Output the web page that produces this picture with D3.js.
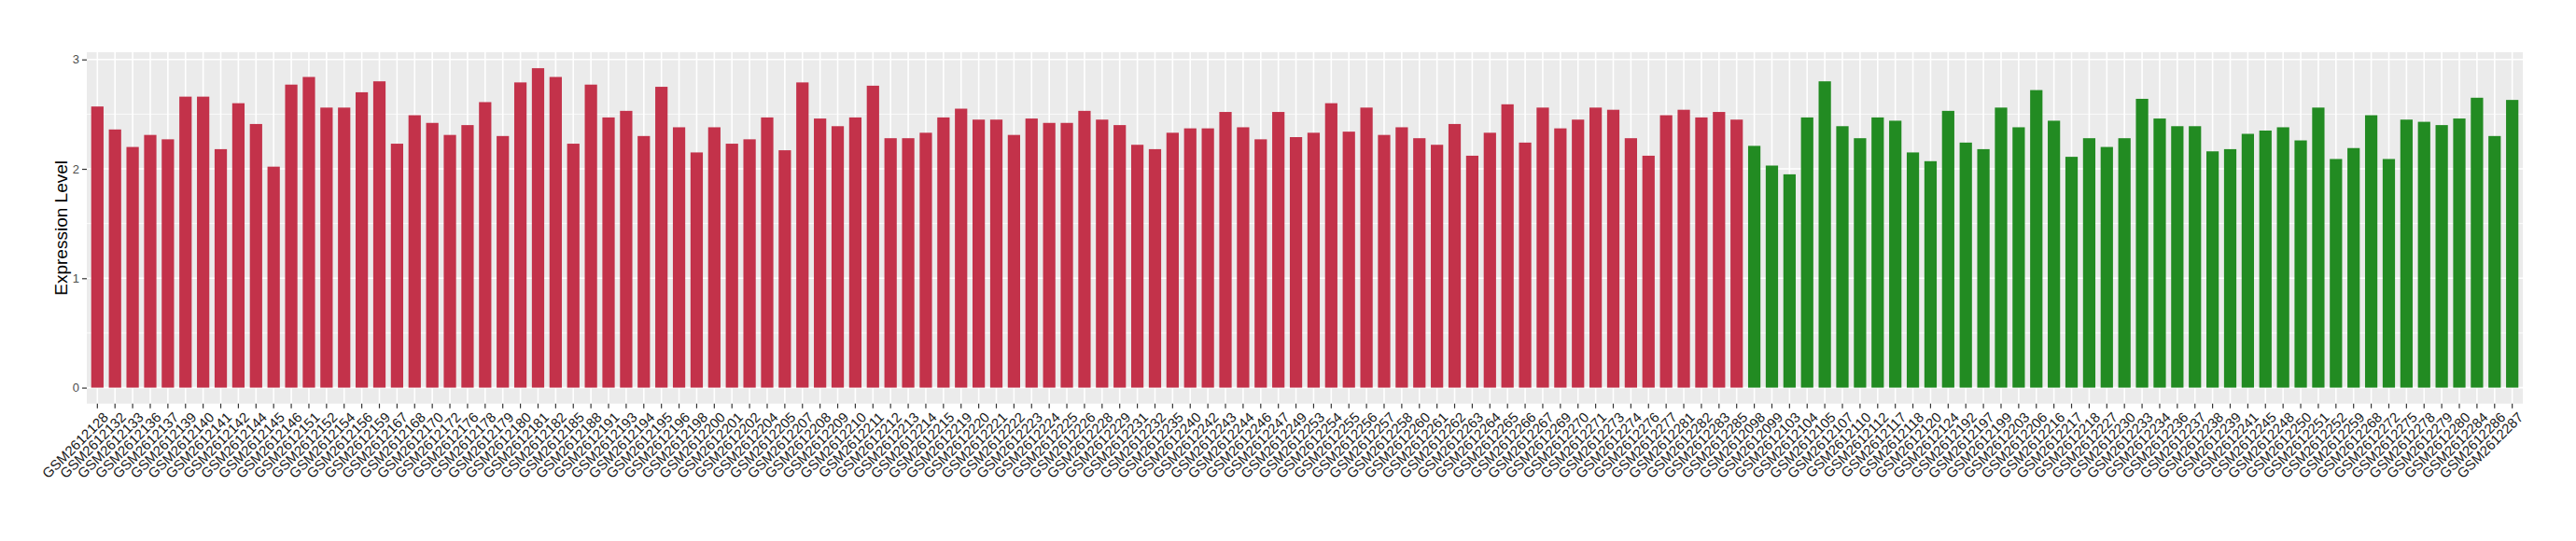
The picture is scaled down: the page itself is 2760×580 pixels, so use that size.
<!DOCTYPE html>
<html>
<head>
<meta charset="utf-8">
<script src="https://cdn.jsdelivr.net/npm/d3@7"></script>
<style>
    body { margin: 0; background: #fff; }
    text { font-family: "Liberation Sans", Arial, Helvetica, sans-serif; }
</style>
</head>
<body>
<div id="example"></div>
<script>
// sample ids (GSM2612xxx), tumour group first, then normal group
var redIds = ["128","132","133","136","137","139","140","141","142","144","145","146","151","152","154","156",
    "159","167","168","170","172","176","178","179","180","181","182","185","188","191","193","194","195","196","198","200",
    "201","202","204","205","207","208","209","210","211","212","213","214","215","219","220","221","222","223","224","225",
    "226","228","229","231","232","235","240","242","243","244","246","247","249","253","254","255","256","257","258","260",
    "261","262","263","264","265","266","267","269","270","271","273","274","276","277","281","282","283","285"];
var greenIds = ["098","099","103","104","105","107","110","112","117","118","120","124","192","197","199","203","206","216","217","218","227","230",
    "233","234","236","237","238","239","241","245","248","250","251","252","259","268","272","275","278","279","280","284","286","287"];

var redValues = [2.57,2.36,2.20,2.31,2.27,2.66,2.66,2.18,2.60,2.41,2.02,2.77,2.84,2.56,2.56,2.70,
    2.80,2.23,2.49,2.42,2.31,2.40,2.61,2.30,2.79,2.92,2.84,2.23,2.77,2.47,2.53,2.30,2.75,2.38,2.15,2.38,
    2.23,2.27,2.47,2.17,2.79,2.46,2.39,2.47,2.76,2.28,2.28,2.33,2.47,2.55,2.45,2.45,2.31,2.46,2.42,2.42,
    2.53,2.45,2.40,2.22,2.18,2.33,2.37,2.37,2.52,2.38,2.27,2.52,2.29,2.33,2.60,2.34,2.56,2.31,2.38,2.28,
    2.22,2.41,2.12,2.33,2.59,2.24,2.56,2.37,2.45,2.56,2.54,2.28,2.12,2.49,2.54,2.47,2.52,2.45];
var greenValues = [2.21,2.03,1.95,2.47,2.80,2.39,2.28,2.47,2.44,2.15,2.07,2.53,2.24,2.18,2.56,2.38,2.72,2.44,2.11,2.28,2.20,2.28,
    2.64,2.46,2.39,2.39,2.16,2.18,2.32,2.35,2.38,2.26,2.56,2.09,2.19,2.49,2.09,2.45,2.43,2.40,2.46,2.65,2.30,2.63];

var yTicks = [0, 1, 2, 3],
    yMinor = [0.5, 1.5, 2.5],
    yTitle = "Expression Level";

(function () {
    var width = 2760,
        height = 580,
        left = 93, right = 2703, top = 56, bottom = 432.7,
        red = "#C3324A",
        green = "#228B22";

    var rows = redIds.map(function (id, i) {
        return {id: "GSM2612" + id, value: redValues[i], color: red};
    }).concat(greenIds.map(function (id, i) {
        return {id: "GSM2612" + id, value: greenValues[i], color: green};
    }));

    var svg = d3.select("#example").append("svg")
        .attr("width", width).attr("height", height);

    var x = d3.scaleBand()
        .domain(rows.map(function (d) { return d.id; }))
        .range([left, right])
        .paddingInner(0.3)
        .paddingOuter(0.25);

    var maxV = d3.max(rows, function (d) { return d.value; });
    var y = d3.scaleLinear()
        .domain([-0.05 * maxV, 1.05 * maxV])
        .range([bottom, top]);

    // panel
    svg.append("rect")
        .attr("x", left).attr("y", top)
        .attr("width", right - left).attr("height", bottom - top)
        .style("fill", "#EBEBEB");

    svg.append("g").selectAll("line")
        .data(yMinor)
        .enter().append("line")
        .attr("x1", left).attr("x2", right)
        .attr("y1", y).attr("y2", y)
        .style("stroke", "#fff").style("stroke-width", "0.8px");

    svg.append("g").selectAll("line")
        .data(yTicks)
        .enter().append("line")
        .attr("x1", left).attr("x2", right)
        .attr("y1", y).attr("y2", y)
        .style("stroke", "#fff").style("stroke-width", "1.6px");

    svg.append("g").selectAll("line")
        .data(rows)
        .enter().append("line")
        .attr("x1", function (d) { return x(d.id) + x.bandwidth() / 2; })
        .attr("x2", function (d) { return x(d.id) + x.bandwidth() / 2; })
        .attr("y1", top).attr("y2", bottom)
        .style("stroke", "#fff").style("stroke-width", "1.6px");

    // bars
    svg.append("g").selectAll("rect")
        .data(rows)
        .enter().append("rect")
        .attr("x", function (d) { return x(d.id); })
        .attr("width", x.bandwidth())
        .attr("y", function (d) { return y(d.value); })
        .attr("height", function (d) { return y(0) - y(d.value); })
        .style("fill", function (d) { return d.color; });

    // axes
    var yAxis = svg.append("g")
        .attr("transform", "translate(" + left + ",0)")
        .call(d3.axisLeft(y).tickValues(yTicks).tickFormat(d3.format("d")).tickSize(5).tickPadding(3));
    yAxis.select(".domain").remove();
    yAxis.selectAll("line").style("stroke", "#333").style("stroke-width", "1.2px");
    yAxis.selectAll("text")
        .style("font-size", "13px")
        .style("fill", "#4D4D4D")
        .style("font-family", "'Liberation Sans', Arial, sans-serif");

    var xAxis = svg.append("g")
        .attr("transform", "translate(0," + bottom + ")")
        .call(d3.axisBottom(x).tickSize(5).tickPadding(0));
    xAxis.select(".domain").remove();
    xAxis.selectAll("line").style("stroke", "#333").style("stroke-width", "1.2px");
    xAxis.selectAll("text")
        .attr("y", 0)
        .attr("text-anchor", "end")
        .attr("transform", "translate(5,8) rotate(-45)")
        .attr("dy", "0.72em")
        .style("font-size", "15px")
        .style("fill", "#1a1a1a")
        .style("font-family", "'Liberation Sans', Arial, sans-serif");

    svg.append("text")
        .attr("transform", "translate(72," + ((top + bottom) / 2) + ") rotate(-90)")
        .attr("text-anchor", "middle")
        .style("font-size", "19px")
        .style("fill", "#000")
        .text(yTitle);
}());
</script>
</body>
</html>
